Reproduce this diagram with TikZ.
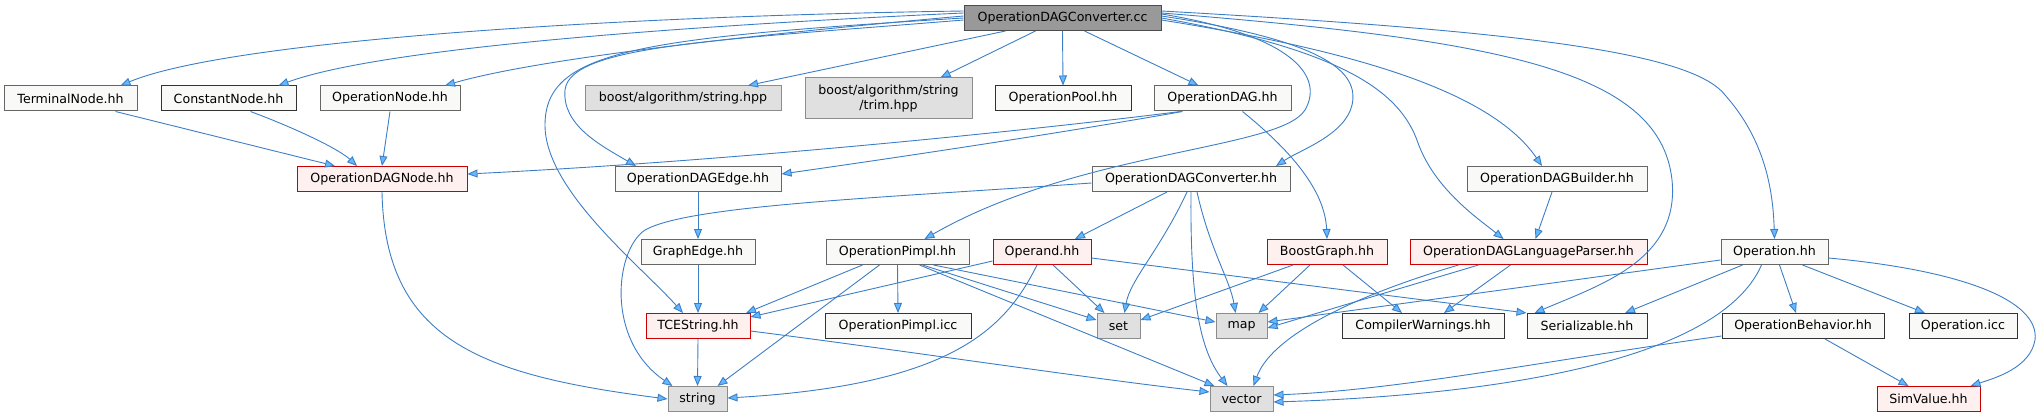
\documentclass[tikz,border=0pt]{standalone}
\usepackage{fontspec}
\setmainfont{DejaVu Sans}
\usetikzlibrary{arrows.meta}

\definecolor{edgeblue}{HTML}{3C7EC6}
\definecolor{tipblue}{HTML}{63B8FF}
\definecolor{boxgray}{HTML}{666666}
\definecolor{boxfill}{HTML}{F9FAF8}
\definecolor{sysfill}{HTML}{E0E0E0}
\definecolor{redfill}{HTML}{FFF0F0}
\definecolor{ccfill}{HTML}{999999}

\tikzset{
  file/.style={draw=boxgray,fill=boxfill,line width=1pt,minimum height=25pt,inner sep=0pt,
    font=\fontsize{12.6}{15}\selectfont},
  leaf/.style={file,draw=black!80},
  sys/.style={file,draw=black!45,fill=sysfill},
  trunc/.style={file,draw=red!80!black,fill=redfill},
  root/.style={file,draw=black!70,fill=ccfill},
  dep/.style={draw=edgeblue,line width=0.9pt,-{Triangle[length=10pt,width=8pt,fill=tipblue]}}
}

\begin{document}
\begin{tikzpicture}[x=1pt,y=1pt]
\useasboundingbox (0,0) rectangle (2042,-417);

\node[root,minimum width=197] (cc) at (1062.5,-18) {OperationDAGConverter.cc};

\node[file,minimum width=133] (terminal) at (70.5,-98.5) {TerminalNode.hh};
\node[leaf,minimum width=135] (constant) at (228.5,-98.5) {ConstantNode.hh};
\node[file,minimum width=140] (opnode) at (390,-98.5) {OperationNode.hh};
\node[sys,minimum width=196] (bstring) at (683,-98.5) {boost/algorithm/string.hpp};
\node[sys,minimum width=167,minimum height=41,align=center] (btrim) at (888.5,-98.5) {boost/algorithm/string\\/trim.hpp};
\node[leaf,minimum width=136] (pool) at (1063,-98.5) {OperationPool.hh};
\node[file,minimum width=137] (dag) at (1222.5,-98.5) {OperationDAG.hh};

\node[trunc,minimum width=170] (dagnode) at (382,-179) {OperationDAGNode.hh};
\node[file,minimum width=166] (dagedge) at (698,-179) {OperationDAGEdge.hh};
\node[file,minimum width=198] (convhh) at (1191,-179) {OperationDAGConverter.hh};
\node[file,minimum width=180] (builder) at (1557,-179) {OperationDAGBuilder.hh};

\node[file,minimum width=114] (graphedge) at (698,-252) {GraphEdge.hh};
\node[file,minimum width=143] (pimpl) at (897.5,-252) {OperationPimpl.hh};
\node[trunc,minimum width=98] (operand) at (1042,-252) {Operand.hh};
\node[trunc,minimum width=120] (boostg) at (1327,-252) {BoostGraph.hh};
\node[trunc,minimum width=237] (parser) at (1528.5,-252) {OperationDAGLanguageParser.hh};
\node[file,minimum width=107] (operation) at (1774.5,-252) {Operation.hh};

\node[trunc,minimum width=104] (tcestr) at (698,-326) {TCEString.hh};
\node[leaf,minimum width=146] (pimplicc) at (898,-326) {OperationPimpl.icc};
\node[sys,minimum width=43] (set) at (1118.5,-326) {set};
\node[sys,minimum width=51] (map) at (1241.5,-326) {map};
\node[leaf,minimum width=162] (warn) at (1423,-326) {CompilerWarnings.hh};
\node[leaf,minimum width=120] (serial) at (1587,-326) {Serializable.hh};
\node[leaf,minimum width=162] (behav) at (1803,-326) {OperationBehavior.hh};
\node[leaf,minimum width=108] (opicc) at (1963,-326) {Operation.icc};

\node[sys,minimum width=59] (string) at (697.5,-399) {string};
\node[sys,minimum width=63] (vector) at (1241.5,-399) {vector};
\node[trunc,minimum width=103] (simval) at (1928.5,-399) {SimValue.hh};

% includes of the .cc file
\draw[dep] ([yshift=7]cc.west) .. controls (620,-16) and (230,-40) .. ([xshift=50]terminal.north);
\draw[dep] ([yshift=5]cc.west) .. controls (680,-26) and (380,-48) .. ([xshift=50]constant.north);
\draw[dep] ([yshift=2]cc.west) .. controls (760,-34) and (540,-58) .. ([xshift=55]opnode.north);
\draw[dep] ([xshift=-57]cc.south) -- ([xshift=65]bstring.north);
\draw[dep] ([xshift=-27]cc.south) -- ([xshift=52]btrim.north);
\draw[dep] (cc.south) -- (pool.north);
\draw[dep] ([xshift=22]cc.south) -- ([xshift=-24]dag.north);
\draw[dep] ([yshift=-2]cc.west) .. controls (720,-40) and (570,-45) .. (565,-90)
  .. controls (562,-125) and (600,-145) .. ([xshift=-62]dagedge.north);
\draw[dep] (cc.west) .. controls (640,-38) and (545,-50) .. (545,-125)
  .. controls (545,-190) and (640,-265) .. ([xshift=-15]tcestr.north);
\draw[dep] ([yshift=4]cc.east) .. controls (1290,-35) and (1325,-75) .. (1305,-110)
  .. controls (1280,-150) and (1080,-150) .. ([xshift=27]pimpl.north);
\draw[dep] ([yshift=2]cc.east) .. controls (1320,-40) and (1360,-70) .. (1352,-105)
  .. controls (1345,-135) and (1300,-150) .. ([xshift=85]convhh.north);
\draw[dep] (cc.east) .. controls (1340,-50) and (1400,-90) .. (1418,-143)
  .. controls (1435,-190) and (1480,-220) .. ([xshift=-25]parser.north);
\draw[dep] ([yshift=-2]cc.east) .. controls (1350,-50) and (1490,-90) .. ([xshift=-15]builder.north);
\draw[dep] ([yshift=5]cc.east) .. controls (1500,-40) and (1660,-70) .. (1672,-180)
  .. controls (1680,-260) and (1600,-285) .. ([xshift=8]serial.north west);
\draw[dep] ([yshift=7]cc.east) .. controls (1500,-30) and (1690,-50) .. (1725,-95)
  .. controls (1765,-140) and (1773,-190) .. (operation.north);

% second level
\draw[dep] ([yshift=-4]convhh.west) .. controls (880,-198) and (690,-205) .. (645,-230)
  .. controls (615,-250) and (605,-340) .. ([xshift=-25]string.north);
\draw[dep] ([xshift=-24]convhh.south) -- ([xshift=33]operand.north);
\draw[dep] ([xshift=-4]convhh.south) .. controls (1160,-250) and (1130,-280) .. ([xshift=6]set.north);
\draw[dep] (convhh.south) .. controls (1190,-300) and (1200,-350) .. ([xshift=-14]vector.north);
\draw[dep] ([xshift=6]convhh.south) .. controls (1210,-250) and (1230,-280) .. ([xshift=-6]map.north);

\draw[dep] ([xshift=-42]dag.south) .. controls (1050,-128) and (750,-160) .. ([yshift=5]dagnode.east);
\draw[dep] ([xshift=-40]dag.south) .. controls (1050,-135) and (880,-160) .. ([yshift=5]dagedge.east);
\draw[dep] ([xshift=20]dag.south) .. controls (1290,-150) and (1325,-190) .. (boostg.north);

\draw[dep] ([xshift=45]terminal.south) -- ([xshift=-47]dagnode.north);
\draw[dep] ([xshift=22]constant.south) .. controls (300,-130) and (340,-150) .. ([xshift=-25]dagnode.north);
\draw[dep] (opnode.south) -- (dagnode.north);
\draw[dep] (dagnode.south) .. controls (385,-340) and (480,-375) .. (string.west);

\draw[dep] (dagedge.south) -- (graphedge.north);
\draw[dep] (graphedge.south) -- (tcestr.north);
\draw[dep] (tcestr.south) -- (string.north);
\draw[dep] ([yshift=-5]tcestr.east) .. controls (900,-350) and (1100,-380) .. ([yshift=7]vector.west);

\draw[dep] ([xshift=-35]pimpl.south) -- ([xshift=48]tcestr.north);
\draw[dep] ([xshift=-18]pimpl.south) -- ([xshift=20]string.north);
\draw[dep] (pimpl.south) -- (pimplicc.north);
\draw[dep] ([xshift=25]pimpl.south) -- ([yshift=6]set.west);
\draw[dep] ([xshift=36]pimpl.south) -- ([yshift=4]map.west);
\draw[dep] ([xshift=22]pimpl.south) -- ([xshift=5]vector.north west);

\draw[dep] ([yshift=-9]operand.west) -- ([yshift=-4]tcestr.north east);
\draw[dep] ([xshift=-5]operand.south) .. controls (1005,-330) and (950,-385) .. ([yshift=1]string.east);
\draw[dep] ([xshift=11]operand.south) -- ([xshift=-14]set.north);
\draw[dep] ([yshift=-6]operand.east) -- (serial.north west);

\draw[dep] ([xshift=-34]boostg.south) -- ([yshift=6]set.east);
\draw[dep] ([xshift=-17]boostg.south) -- ([xshift=17]map.north);
\draw[dep] ([xshift=16]boostg.south) -- ([xshift=-21]warn.north);

\draw[dep] ([xshift=-50]parser.south) -- ([yshift=-2]map.east);
\draw[dep] ([xshift=-70]parser.south) .. controls (1340,-300) and (1270,-340) .. ([xshift=12]vector.north);
\draw[dep] ([xshift=-18]parser.south) -- ([xshift=21]warn.north);
\draw[dep] ([xshift=-5]builder.south) -- ([xshift=7]parser.north);

\draw[dep] ([yshift=-8]operation.west) -- ([yshift=4]map.east);
\draw[dep] ([xshift=-32]operation.south) -- ([xshift=38]serial.north);
\draw[dep] ([xshift=-13]operation.south) .. controls (1720,-360) and (1500,-395) .. ([yshift=-3]vector.east);
\draw[dep] ([xshift=5]operation.south) -- ([xshift=-7]behav.north);
\draw[dep] ([xshift=28]operation.south) -- ([xshift=-38]opicc.north);
\draw[dep] ([yshift=-6]operation.east) .. controls (1960,-270) and (2040,-300) .. (2035,-340)
  .. controls (2030,-368) and (1995,-378) .. ([xshift=42]simval.north);

\draw[dep] ([yshift=-10]behav.west) .. controls (1550,-360) and (1400,-390) .. ([yshift=4]vector.east);
\draw[dep] ([xshift=22]behav.south) -- ([xshift=-20]simval.north);
\end{tikzpicture}
\end{document}
